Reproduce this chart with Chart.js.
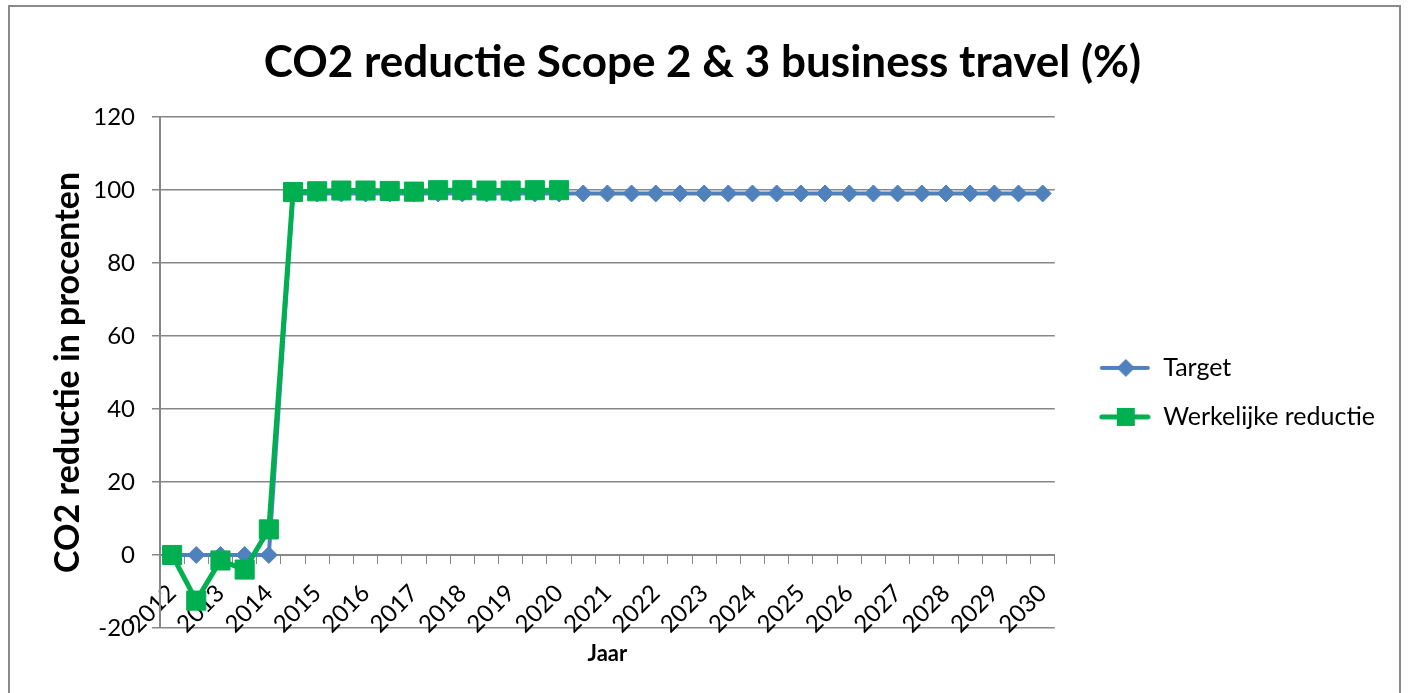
<!DOCTYPE html>
<html><head>
<title>CO2 reductie Scope 2 &amp; 3 business travel (%)</title>
<script src="https://cdn.jsdelivr.net/npm/chart.js@4"></script>
<style>
html, body { margin: 0; padding: 0; background: #fff; overflow: hidden; }
.frame { position: absolute; left: 8px; top: 5px; width: 1393px; height: 720px; border: 2px solid #8a8a8a; box-sizing: border-box; }
.chart-container { position: absolute; left: 0; top: 0; width: 1410px; height: 693px; }
</style></head><body>
<div class="frame"></div>
<div class="chart-container"><canvas id="chart"></canvas></div>
<script>
// Half-year categories, only every full year is labelled on the axis
const categories = [
  '2012', '', '2013', '', '2014', '', '2015', '', '2016', '', '2017', '', '2018', '',
  '2019', '', '2020', '', '2021', '', '2022', '', '2023', '', '2024', '', '2025', '',
  '2026', '', '2027', '', '2028', '', '2029', '', '2030'
];
const targetValues = [
  0, 0, 0, 0, 0, 99, 99, 99, 99, 99, 99, 99, 99, 99, 99, 99, 99, 99, 99, 99,
  99, 99, 99, 99, 99, 99, 99, 99, 99, 99, 99, 99, 99, 99, 99, 99, 99
];
const actualValues = [
  0, -12.5, -1.5, -4, 7, 99.4, 99.6, 99.8, 99.8, 99.7, 99.5, 99.9, 99.9, 99.8, 99.8, 99.9, 99.9
];
const yTicks = [-20, 0, 20, 40, 60, 80, 100, 120];

const BLUE = '#4F81BD';
const GREEN = '#00B050';
const GRID = '#878787';
const FONT = 'Lato, "Open Sans", sans-serif';

// legend swatch: line with the marker in the middle
function legendSwatch(color, lineWidth, marker) {
  const c = document.createElement('canvas');
  c.width = 72; c.height = 26;
  const g = c.getContext('2d');
  g.strokeStyle = color; g.lineWidth = lineWidth; g.lineCap = 'round';
  g.beginPath(); g.moveTo(23, 13); g.lineTo(69, 13); g.stroke();
  g.fillStyle = color;
  const cx = 47, cy = 13;
  g.beginPath();
  if (marker === 'diamond') {
    g.moveTo(cx, cy - 9); g.lineTo(cx + 9, cy); g.lineTo(cx, cy + 9); g.lineTo(cx - 9, cy);
  } else {
    g.rect(cx - 9, cy - 9, 18, 18);
  }
  g.closePath(); g.fill();
  return c;
}

const swatches = [legendSwatch(BLUE, 4, 'diamond'), legendSwatch(GREEN, 5, 'square')];

new Chart(document.getElementById('chart'), {
  type: 'line',
  data: {
    labels: categories,
    datasets: [
      {
        label: 'Target',
        data: targetValues,
        borderColor: BLUE,
        backgroundColor: BLUE,
        borderWidth: 4,
        pointStyle: 'rectRot',
        pointRadius: 8.5,
        pointBorderWidth: 1,
        pointHoverRadius: 8.5,
        tension: 0,
        order: 2,
      },
      {
        label: 'Werkelijke reductie',
        data: actualValues,
        borderColor: GREEN,
        backgroundColor: GREEN,
        borderWidth: 5,
        pointStyle: 'rect',
        pointRadius: 13.5,
        pointBorderWidth: 1,
        pointHoverRadius: 13.5,
        tension: 0,
        order: 1,
      },
    ],
  },
  options: {
    responsive: true, maintainAspectRatio: false, animation: false,
    layout: { padding: { left: 20, right: 25, top: 0, bottom: 65 } },
    plugins: {
      title: {
        display: true,
        text: 'CO2 reductie Scope 2 & 3 business travel (%)',
        color: '#000',
        font: { family: FONT, size: 44, weight: 'bold' },
        padding: { top: 36, bottom: 28 },
      },
      legend: {
        position: 'right',
        align: 'center',
        fullSize: false,
        title: { display: true, text: '', font: { size: 20 }, padding: 8 },
        labels: {
          usePointStyle: true,
          pointStyleWidth: 72,
          padding: 24,
          color: '#000',
          font: { family: FONT, size: 25 },
          generateLabels: chart => chart.data.datasets.map((ds, i) => ({
            text: ds.label,
            pointStyle: swatches[i],
            fillStyle: ds.borderColor,
            strokeStyle: ds.borderColor,
            lineWidth: 0,
            fontColor: '#000',
            datasetIndex: i,
            hidden: false,
          })),
        },
      },
      tooltip: { enabled: false },
    },
    scales: {
      x: {
        type: 'category',
        position: { y: 0 },
        offset: true,
        afterFit: s => { s.height = 112; },
        grid: { display: true, drawOnChartArea: false, drawTicks: true, tickLength: 8, color: GRID, offset: true },
        border: { display: true, color: GRID, width: 2 },
        ticks: {
          autoSkip: false, minRotation: 45, maxRotation: 45, padding: 16,
          color: '#000', font: { family: FONT, size: 24 },
        },
        title: {
          display: true, text: 'Jaar', color: '#000',
          font: { family: FONT, size: 22, weight: 'bold' },
          padding: { top: 0, bottom: 0 },
        },
      },
      y: {
        min: -20, max: 120,
        afterFit: s => { s.width = 140; },
        afterBuildTicks: s => { s.ticks = yTicks.map(v => ({ value: v })); },
        grid: { color: GRID, lineWidth: 1.5, drawTicks: true, tickLength: 8 },
        border: { display: true, color: GRID, width: 2 },
        ticks: { color: '#000', padding: 17, font: { family: FONT, size: 24 } },
        title: {
          display: true, text: 'CO2 reductie in procenten', color: '#000',
          font: { family: FONT, size: 34, weight: 'bold' },
          padding: { top: 28, bottom: 0 },
        },
      },
    },
  },
});
</script>
</body></html>
